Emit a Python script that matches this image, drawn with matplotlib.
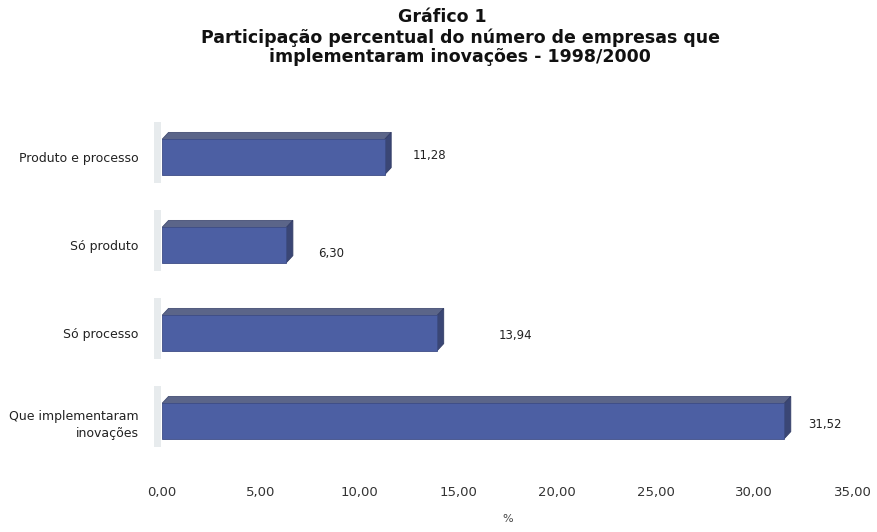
import matplotlib.pyplot as plt
from matplotlib.patches import Polygon, Rectangle

categorias = ['Produto e processo', 'Só produto', 'Só processo',
              'Que implementaram\ninovações']
valores = [11.28, 6.30, 13.94, 31.52]
rotulos = ['11,28', '6,30', '13,94', '31,52']
ticks = [0, 5, 10, 15, 20, 25, 30, 35]

plt.rcParams['font.family'] = ['DejaVu Sans']

fig = plt.figure(figsize=(8.78, 5.32), dpi=100)
ax = fig.add_axes([0.1845, 0.1447, 0.787, 0.639])

y = list(range(len(categorias)))
altura = 0.40
prof_x = 0.33   # profundidade do efeito 3D em x (unidades do eixo)
prof_y = 0.08   # profundidade em y

barras = ax.barh(y, valores, height=altura, color='#4c5fa3',
                 edgecolor='#3d4d86', lw=0.6, zorder=3)

for b in barras:
    x0 = b.get_x()
    x1 = x0 + b.get_width()
    yt = b.get_y()
    yb = yt + b.get_height()
    # parede cinza à esquerda de cada barra
    ax.add_patch(Rectangle((x0 - 0.4, yt - 0.2), 0.35, yb - yt + 0.3,
                           fc='#e2e6e9', ec='none', alpha=0.8,
                           clip_on=False, zorder=1))
    topo = Polygon([(x0, yt), (x0 + prof_x, yt - prof_y),
                    (x1 + prof_x, yt - prof_y), (x1, yt)],
                   closed=True, fc='#5b6589', ec='#454f75', lw=0.6, zorder=2)
    lado = Polygon([(x1, yt), (x1 + prof_x, yt - prof_y),
                    (x1 + prof_x, yb - prof_y), (x1, yb)],
                   closed=True, fc='#3a4675', ec='#333d66', lw=0.6, zorder=2)
    ax.add_patch(topo)
    ax.add_patch(lado)

# rótulos de valor
desloc_x = [1.4, 1.6, 3.1, 1.2]
desloc_y = [-0.02, 0.1, 0.03, 0.04]
for i, (v, r) in enumerate(zip(valores, rotulos)):
    ax.text(v + desloc_x[i], i + desloc_y[i], r, ha='left', va='center',
            fontsize=8.5, color='#222222')

ax.set_xlim(0, 35)
ax.set_ylim(3.386, -0.477)
ax.set_yticks(y)
ax.set_yticklabels(categorias, fontsize=9, color='#222222',
                   ha='right', multialignment='right', linespacing=1.4)
ax.set_xticks(ticks)
ax.set_xticklabels([f'{t:.2f}'.replace('.', ',') for t in ticks],
                   fontsize=9.5, color='#333333')
ax.tick_params(axis='both', length=0)
ax.tick_params(axis='x', pad=22)
ax.tick_params(axis='y', pad=17)
for s in ax.spines.values():
    s.set_visible(False)

fig.text(0.578, 0.018, '%', ha='center', fontsize=8, color='#444444')

fig.text(0.504, 0.968, 'Gráfico 1', ha='center', va='center',
         fontsize=12.5, fontweight='bold', color='#111111')
fig.text(0.524, 0.929, 'Participação percentual do número de empresas que',
         ha='center', va='center', fontsize=12.5, fontweight='bold',
         color='#111111')
fig.text(0.524, 0.893, 'implementaram inovações - 1998/2000',
         ha='center', va='center', fontsize=12.5, fontweight='bold',
         color='#111111')

fig.savefig('out.png', dpi=100, facecolor='white')
